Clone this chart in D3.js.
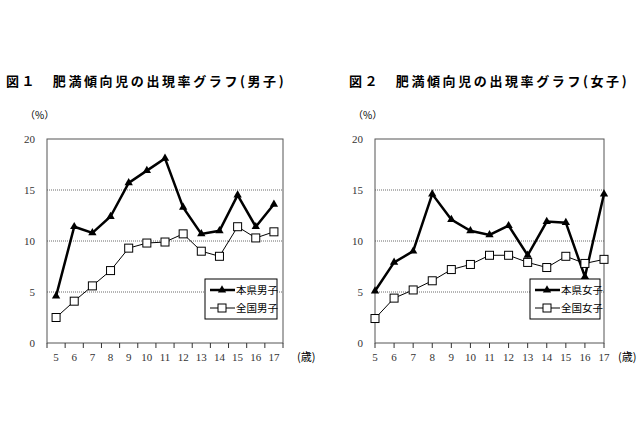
<!DOCTYPE html>
<html><head><meta charset="utf-8">
<script src="https://cdn.jsdelivr.net/npm/d3@7"></script>
<style>body{margin:0;background:#fff}svg{display:block}</style>
</head><body><div id="chart"></div>
<script>
const ages = [5, 6, 7, 8, 9, 10, 11, 12, 13, 14, 15, 16, 17];
const yTicks = [0, 5, 10, 15, 20];
const boysPref = [4.6, 11.4, 10.8, 12.4, 15.7, 16.9, 18.1, 13.3, 10.7, 11.0, 14.5, 11.4, 13.6];
const boysNat = [2.5, 4.1, 5.6, 7.1, 9.3, 9.8, 9.9, 10.7, 9.0, 8.5, 11.4, 10.3, 10.9];
const girlsPref = [5.1, 7.9, 9.0, 14.6, 12.1, 11.0, 10.6, 11.5, 8.6, 11.9, 11.8, 6.5, 14.6];
const girlsNat = [2.4, 4.4, 5.2, 6.1, 7.2, 7.7, 8.6, 8.6, 7.9, 7.4, 8.5, 7.8, 8.2];

const svg = d3.select('#chart').append('svg').attr('width', 640).attr('height', 426);
const jp = '"Noto Sans CJK JP", sans-serif';
const num = '"Liberation Serif", serif';

function drawPanel(opt) {
  const g = svg.append('g');
  const y = d3.scaleLinear().domain([0, 20]).range([343, 139]);
  let x, bounds;
  if (opt.band) {
    const b = d3.scaleBand().domain(ages).range([opt.x0, opt.x1]);
    x = (d) => b(d) + b.bandwidth() / 2;
    bounds = ages.map((d) => b(d)).concat([opt.x1]);
  } else {
    const p = d3.scalePoint().domain(ages).range([opt.x0, opt.x1]);
    x = p;
    bounds = ages.map((d) => p(d));
  }
  g.append('text').attr('x', opt.tx).attr('y', 86).attr('font-family', jp).attr('font-weight', 'bold')
    .attr('font-size', 13).attr('letter-spacing', 2.6).text(opt.title);
  g.append('text').attr('x', opt.x0 - 22).attr('y', 119).attr('font-family', jp).attr('font-size', 10).text('（%）');
  // grid
  g.selectAll('line.grid').data([5, 10, 15]).enter().append('line')
    .attr('x1', opt.x0).attr('x2', opt.x1).attr('y1', y).attr('y2', y)
    .attr('stroke', '#444').attr('stroke-width', 0.8).attr('stroke-dasharray', '1,1');
  g.append('rect').attr('x', opt.x0).attr('y', 139).attr('width', opt.x1 - opt.x0).attr('height', 204)
    .attr('fill', 'none').attr('stroke', '#555').attr('stroke-width', 1);
  g.selectAll('text.yt').data(yTicks).enter().append('text')
    .attr('x', opt.x0 - 12).attr('y', (d) => y(d) + 4).attr('text-anchor', 'end')
    .attr('font-family', num).attr('font-size', 11).attr('fill', '#333').text((d) => d);
  g.selectAll('line.xt').data(bounds).enter().append('line')
    .attr('x1', (d) => d).attr('x2', (d) => d).attr('y1', 343).attr('y2', 348).attr('stroke', '#333');
  g.selectAll('text.xl').data(ages).enter().append('text')
    .attr('x', x).attr('y', 361).attr('text-anchor', 'middle')
    .attr('font-family', num).attr('font-size', 11).attr('fill', '#333').text((d) => d);
  g.append('text').attr('x', opt.x1 + 14).attr('y', 361).attr('font-family', jp).attr('font-size', 11).text('(歳)');

  const line = d3.line().x((d, i) => x(ages[i])).y((d) => y(d));
  g.append('path').attr('d', line(opt.nat)).attr('fill', 'none').attr('stroke', '#000').attr('stroke-width', 1);
  g.append('path').attr('d', line(opt.pref)).attr('fill', 'none').attr('stroke', '#000').attr('stroke-width', 2.5);
  const tri = d3.symbol().type(d3.symbolTriangle).size(30);
  g.selectAll('path.tri').data(opt.pref).enter().append('path')
    .attr('d', tri).attr('transform', (d, i) => `translate(${x(ages[i])},${y(d)})`).attr('fill', '#000');
  g.selectAll('rect.sq').data(opt.nat).enter().append('rect')
    .attr('x', (d, i) => x(ages[i]) - 4).attr('y', (d) => y(d) - 4).attr('width', 8).attr('height', 8)
    .attr('fill', '#fff').attr('stroke', '#000');
  // legend
  const L = g.append('g').attr('transform', `translate(${opt.lx},279)`);
  L.append('rect').attr('width', opt.lw).attr('height', 40).attr('fill', '#fff').attr('stroke', '#000');
  L.append('line').attr('x1', 5).attr('x2', 30).attr('y1', 11).attr('y2', 11).attr('stroke', '#000').attr('stroke-width', 2.5);
  L.append('path').attr('d', tri).attr('transform', 'translate(17,11)');
  L.append('line').attr('x1', 5).attr('x2', 30).attr('y1', 29).attr('y2', 29).attr('stroke', '#000');
  L.append('rect').attr('x', 13).attr('y', 25).attr('width', 8).attr('height', 8).attr('fill', '#fff').attr('stroke', '#000');
  L.append('text').attr('x', 31).attr('y', 15).attr('font-family', jp).attr('font-size', 10.5).text(opt.n1);
  L.append('text').attr('x', 31).attr('y', 33).attr('font-family', jp).attr('font-size', 10.5).text(opt.n2);
}

drawPanel({ band: true, x0: 47, x1: 283, tx: 6, title: '図１　肥満傾向児の出現率グラフ(男子)',
  pref: boysPref, nat: boysNat, lx: 205, lw: 72, n1: '本県男子', n2: '全国男子' });
drawPanel({ band: false, x0: 375, x1: 604, tx: 349, title: '図２　肥満傾向児の出現率グラフ(女子)',
  pref: girlsPref, nat: girlsNat, lx: 530, lw: 70, n1: '本県女子', n2: '全国女子' });
</script></body></html>
